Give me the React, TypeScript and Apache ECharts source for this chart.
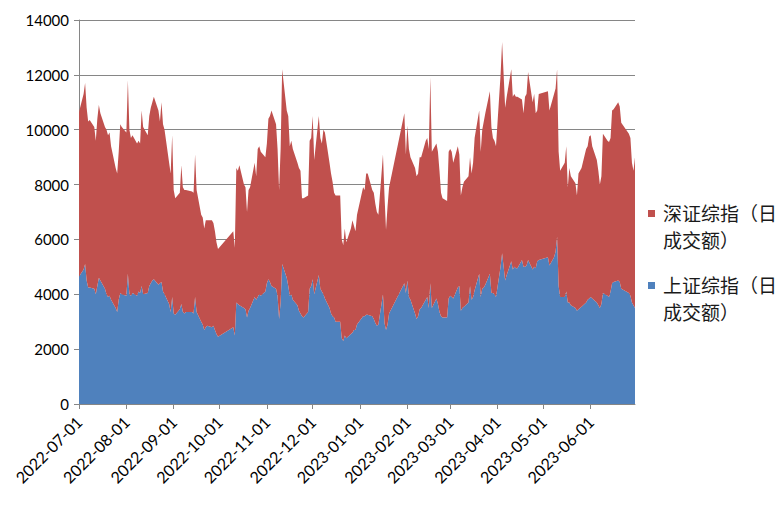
import React, { useEffect, useRef } from "react";
import * as echarts from "echarts";

// Months covered by the chart and the trading days (day of month) in each
const monthKeys = [
  "2022-07", "2022-08", "2022-09", "2022-10", "2022-11", "2022-12",
  "2023-01", "2023-02", "2023-03", "2023-04", "2023-05", "2023-06",
];

const tradingDays: number[][] = [
  [1, 4, 5, 6, 7, 8, 11, 12, 13, 14, 15, 18, 19, 20, 21, 22, 25, 26, 27, 28, 29],
  [1, 2, 3, 4, 5, 8, 9, 10, 11, 12, 15, 16, 17, 18, 19, 22, 23, 24, 25, 26, 29, 30, 31],
  [1, 2, 5, 6, 7, 8, 9, 13, 14, 15, 16, 19, 20, 21, 22, 23, 26, 27, 28, 29, 30],
  [10, 11, 12, 13, 14, 17, 18, 19, 20, 21, 24, 25, 26, 27, 28, 31],
  [1, 2, 3, 4, 7, 8, 9, 10, 11, 14, 15, 16, 17, 18, 21, 22, 23, 24, 25, 28, 29, 30],
  [1, 2, 5, 6, 7, 8, 9, 12, 13, 14, 15, 16, 19, 20, 21, 22, 23, 26, 27, 28, 29, 30],
  [3, 4, 5, 6, 9, 10, 11, 12, 13, 16, 17, 18, 19, 20, 30, 31],
  [1, 2, 3, 6, 7, 8, 9, 10, 13, 14, 15, 16, 17, 20, 21, 22, 23, 24, 27, 28],
  [1, 2, 3, 6, 7, 8, 9, 10, 13, 14, 15, 16, 17, 20, 21, 22, 23, 24, 27, 28, 29, 30, 31],
  [3, 4, 6, 7, 10, 11, 12, 13, 14, 17, 18, 19, 20, 21, 24, 25, 26, 27, 28],
  [4, 5, 8, 9, 10, 11, 12, 15, 16, 17, 18, 19, 22, 23, 24, 25, 26, 29, 30, 31],
  [1, 2, 5, 6, 7, 8, 9, 12, 13, 14, 15, 16, 19, 20, 21, 26, 27, 28, 29, 30],
];

// 上证综指 daily turnover (bottom layer), by month
const shanghaiTurnover: number[][] = [
  [4650, 4900, 5100, 4500, 4250, 4250, 4200, 4000, 4300, 4600, 4500, 4200, 4000, 3900, 3950, 3800, 3500, 3350, 3800, 4050, 4000],
  [3950, 4750, 4000, 3950, 4050, 3950, 4100, 4050, 4300, 4000, 4050, 4300, 4400, 4500, 4550, 4350, 4400, 4450, 4100, 4000, 3650, 3350, 3900],
  [3300, 3250, 3450, 3650, 3350, 3300, 3350, 3350, 3300, 3900, 3350, 3000, 2900, 2700, 2800, 2850, 2800, 2850, 2700, 2550, 2450],
  [2800, 2500, 3700, 3650, 3600, 3500, 3450, 3150, 3400, 3500, 3900, 3800, 3900, 4000, 3950, 4100],
  [4400, 4550, 4450, 4300, 4200, 3950, 3100, 3700, 5100, 4600, 4300, 3950, 4000, 3800, 3600, 3400, 3300, 3200, 3150, 3350, 4200, 4300],
  [4550, 4000, 4700, 4200, 4100, 4000, 3850, 3500, 3300, 3200, 3150, 3000, 3000, 2400, 2300, 2500, 2400, 2550, 2600, 2700, 2700, 2900],
  [3200, 3200, 3250, 3250, 3200, 3100, 2950, 2850, 2900, 4000, 2950, 2700, 2900, 3300, 4400, 4050],
  [4500, 3900, 3800, 3300, 3100, 3200, 3450, 3500, 3800, 3900, 3500, 4400, 3500, 3850, 3650, 3350, 3200, 3150, 3150, 3850],
  [3950, 3900, 3850, 4250, 4300, 3400, 3500, 3550, 3700, 4300, 3800, 3900, 4150, 4750, 3900, 4200, 4250, 4350, 4750, 4050, 4050, 4000, 3900],
  [5000, 5500, 4500, 4700, 5200, 4900, 5000, 4950, 4950, 5250, 5000, 5000, 5050, 5250, 4900, 5000, 4950, 5200, 5250],
  [5350, 5050, 5350, 5550, 6100, 4300, 3900, 3900, 4100, 3700, 3700, 3600, 3500, 3400, 3450, 3500, 3550, 3700, 3800, 3850],
  [3900, 3850, 3700, 3600, 3500, 3650, 4050, 3950, 3900, 4100, 4400, 4450, 4500, 4450, 4200, 4050, 3950, 3700, 3600, 3500],
];

// 深证综指 daily turnover (stacked on top), by month
const shenzhenTurnover: number[][] = [
  [6000, 6400, 6600, 6300, 6050, 6100, 5900, 5600, 6100, 6300, 6100, 5900, 6000, 5900, 5950, 5600, 5100, 5050, 5400, 6150, 6100],
  [5950, 7050, 6000, 5750, 5750, 5550, 5500, 5450, 6400, 6100, 5750, 6200, 6400, 6500, 6650, 6350, 5900, 6550, 6100, 6000, 5150, 5050, 5900],
  [4500, 4250, 4250, 5050, 4550, 4500, 4450, 4400, 4400, 5200, 4450, 3900, 3900, 3700, 3900, 3850, 3900, 3750, 3600, 3350, 3200],
  [3500, 3200, 4900, 4850, 5100, 4500, 4450, 3850, 4400, 4400, 4900, 4500, 5400, 5400, 5250, 4900],
  [5100, 5850, 6050, 6400, 6000, 5350, 4700, 5600, 7100, 6100, 6200, 5450, 5600, 5500, 5200, 5200, 5200, 4300, 4350, 4250, 5400, 5400],
  [5950, 4900, 5800, 5500, 5400, 6000, 6050, 5300, 5100, 4900, 4550, 4600, 4600, 3600, 3500, 3900, 3500, 3850, 4100, 3800, 3600, 4000],
  [4700, 4600, 5150, 5150, 4600, 4600, 4350, 4150, 4000, 5100, 4650, 3650, 4300, 4600, 6200, 5050],
  [5650, 5400, 5200, 5300, 5200, 5200, 5550, 5500, 5800, 5800, 5800, 7500, 5700, 5650, 5550, 5150, 4500, 4350, 4250, 5350],
  [5350, 5300, 4950, 5150, 4800, 4200, 4400, 4550, 4600, 4700, 4600, 4900, 5550, 5950, 5300, 5800, 6050, 6250, 6650, 6050, 5650, 5600, 5500],
  [7000, 7700, 6300, 6500, 7000, 6300, 6300, 6250, 6250, 5850, 5600, 6200, 6250, 6850, 6100, 6300, 5650, 5500, 6050],
  [6050, 5650, 5950, 5950, 6100, 4900, 4600, 4900, 5300, 4200, 4900, 4700, 4550, 4200, 4950, 5000, 5050, 5600, 5600, 5900],
  [5900, 5550, 5200, 4900, 4500, 4650, 5800, 5650, 5650, 5600, 6300, 6300, 6500, 6400, 6050, 5800, 5750, 5100, 4900, 5500],
];

// Tick labels on the date axis
const dateTickLabels = [
  "2022-07-01", "2022-08-01", "2022-09-01", "2022-10-01", "2022-11-01", "2022-12-01",
  "2023-01-01", "2023-02-01", "2023-03-01", "2023-04-01", "2023-05-01", "2023-06-01",
];
const axisStart = "2022-07-01";
const axisEnd = "2023-06-30";

const seriesNames = ["上证综指（日成交额）", "深证综指（日成交额）"];
const legendLines = [
  ["深证综指（日", "成交额）"],
  ["上证综指（日", "成交额）"],
];

const BLUE = "#4F81BD";
const RED = "#C0504D";
const AXIS_GRAY = "#868686";

const parseDate = (s: string) => {
  const [y, m, d] = s.split("-").map(Number);
  return new Date(y, m - 1, d).getTime();
};

const pad = (n: number) => (n < 10 ? "0" + n : "" + n);
const fmtDate = (t: number) => {
  const d = new Date(t);
  return `${d.getFullYear()}-${pad(d.getMonth() + 1)}-${pad(d.getDate())}`;
};

const buildSeriesData = (values: number[][]) =>
  monthKeys.flatMap((mk, i) =>
    tradingDays[i].map((day, j) => [parseDate(`${mk}-${pad(day)}`), values[i][j]])
  );

export default function App() {
  const ref = useRef<HTMLDivElement>(null);

  useEffect(() => {
    if (!ref.current) return;
    const chart = echarts.init(ref.current, null, { renderer: "svg" });
    const tickTimes = dateTickLabels.map(parseDate);
    const labelFont = "Lato";
    const tMin = parseDate(axisStart);
    const tMax = parseDate(axisEnd);

    chart.setOption({
      animation: false,
      backgroundColor: "#ffffff",
      grid: { left: 79, top: 20, width: 556, height: 384, containLabel: false },
      xAxis: [
        {
          // time axis that places the daily data (hidden)
          type: "time",
          position: "top",
          min: tMin,
          max: tMax,
          axisLine: { show: false },
          axisTick: { show: false },
          axisLabel: { show: false },
          splitLine: { show: false },
        },
        {
          // visible date axis with month-start ticks
          type: "value",
          position: "bottom",
          min: tMin,
          max: tMax,
          axisLine: { show: true, lineStyle: { color: AXIS_GRAY, width: 1 } },
          axisTick: {
            show: true,
            length: 5,
            customValues: tickTimes,
            lineStyle: { color: AXIS_GRAY, width: 1 },
          },
          axisLabel: {
            customValues: tickTimes,
            rotate: 45,
            margin: 15,
            fontSize: 16,
            fontFamily: labelFont,
            color: "#000",
            formatter: (v: number) => fmtDate(v),
          },
          splitLine: { show: false },
        },
      ],
      yAxis: {
        type: "value",
        min: 0,
        max: 14000,
        interval: 2000,
        axisLine: { show: true, lineStyle: { color: AXIS_GRAY, width: 1 } },
        axisTick: { show: true, length: 5, lineStyle: { color: AXIS_GRAY, width: 1 } },
        axisLabel: {
          margin: 10,
          fontSize: 15,
          fontFamily: labelFont,
          color: "#000",
          formatter: (v: number) => String(v),
        },
        splitLine: { show: true, lineStyle: { color: AXIS_GRAY, width: 1 } },
      },
      series: [
        {
          name: seriesNames[0],
          type: "line",
          xAxisIndex: 0,
          stack: "total",
          data: buildSeriesData(shanghaiTurnover),
          symbol: "none",
          showSymbol: false,
          lineStyle: { width: 0, opacity: 0 },
          itemStyle: { color: BLUE },
          areaStyle: { color: BLUE, opacity: 1 },
        },
        {
          name: seriesNames[1],
          type: "line",
          xAxisIndex: 0,
          stack: "total",
          data: buildSeriesData(shenzhenTurnover),
          symbol: "none",
          showSymbol: false,
          lineStyle: { width: 0, opacity: 0 },
          itemStyle: { color: RED },
          areaStyle: { color: RED, opacity: 1 },
        },
      ],
      graphic: [
        { type: "rect", x: 648, y: 210, shape: { width: 7, height: 7 }, style: { fill: RED } },
        {
          type: "text",
          x: 663,
          y: 199,
          style: {
            text: legendLines[0].join("\n"),
            fontSize: 19,
            fontFamily: "Noto Sans CJK SC",
            fill: "#1a1a1a",
            lineHeight: 27,
            verticalAlign: "top",
          },
        },
        { type: "rect", x: 648, y: 282, shape: { width: 7, height: 7 }, style: { fill: BLUE } },
        {
          type: "text",
          x: 663,
          y: 271,
          style: {
            text: legendLines[1].join("\n"),
            fontSize: 19,
            fontFamily: "Noto Sans CJK SC",
            fill: "#1a1a1a",
            lineHeight: 27,
            verticalAlign: "top",
          },
        },
      ],
    });

    return () => chart.dispose();
  }, []);

  return (
    <div
      ref={ref}
      style={{ position: "absolute", left: 0, top: 0, width: 780, height: 507 }}
    />
  );
}
